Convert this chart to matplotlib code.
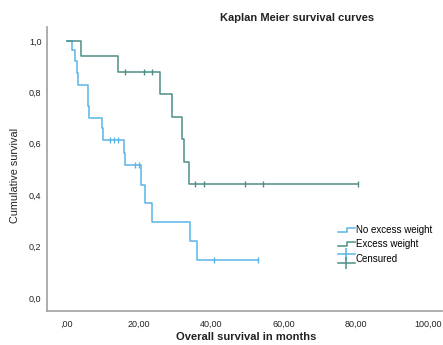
import matplotlib
matplotlib.use("Agg")
import matplotlib.pyplot as plt
from matplotlib.legend_handler import HandlerBase
from matplotlib.lines import Line2D

plt.rcParams['font.family'] = ['Liberation Sans', 'DejaVu Sans']

# step curves (time in months, survival)
no_excess_t = [0, 1.4, 2.3, 2.8, 3.2, 5.8, 6.2, 9.7, 10.1, 15.8, 16.1, 20.6, 21.7, 23.7, 34.2, 36.0, 53.0]
no_excess_s = [1.0, 0.965, 0.92, 0.876, 0.83, 0.745, 0.70, 0.66, 0.614, 0.565, 0.516, 0.441, 0.369, 0.295, 0.223, 0.150, 0.150]
no_excess_cens_t = [12.0, 13.1, 14.2, 18.8, 20.0, 40.8, 53.0]
no_excess_cens_s = [0.614, 0.614, 0.614, 0.516, 0.516, 0.150, 0.150]

excess_t = [0, 4.0, 14.1, 25.8, 29.1, 31.9, 32.5, 33.9, 80.5]
excess_s = [1.0, 0.943, 0.879, 0.793, 0.706, 0.618, 0.531, 0.442, 0.442]
excess_cens_t = [16.1, 21.3, 23.6, 35.5, 37.9, 49.4, 54.4, 80.5]
excess_cens_s = [0.879, 0.879, 0.879, 0.442, 0.442, 0.442, 0.442, 0.442]

x_ticks = [0, 20, 40, 60, 80, 100]
y_ticks = [0.0, 0.2, 0.4, 0.6, 0.8, 1.0]

blue = '#5ab4e6'
green = '#4d8f86'


class StepHandler(HandlerBase):
    def __init__(self, color):
        super().__init__()
        self.color = color

    def create_artists(self, legend, orig_handle, xdescent, ydescent, width, height, fontsize, trans):
        xs = [0, width * 0.55, width * 0.55, width]
        ys = [height * 0.2, height * 0.2, height * 0.8, height * 0.8]
        ln = Line2D(xs, ys, color=self.color, lw=1.1, transform=trans)
        return [ln]


class CensorHandler(HandlerBase):
    def create_artists(self, legend, orig_handle, xdescent, ydescent, width, height, fontsize, trans):
        l1 = Line2D([0, width], [height * 1.1, height * 1.1], color=blue, lw=1.1, transform=trans)
        m1 = Line2D([width / 2], [height * 1.1], marker='|', ms=9, mew=1.1, color=blue, transform=trans)
        l2 = Line2D([0, width], [height * -0.2, height * -0.2], color=green, lw=1.1, transform=trans)
        m2 = Line2D([width / 2], [height * -0.2], marker='|', ms=9, mew=1.1, color=green, transform=trans)
        return [l1, m1, l2, m2]


fig = plt.figure(figsize=(4.43, 3.45), dpi=100)
ax = fig.add_axes([47 / 443, 34 / 345, (442 - 47) / 443, (311 - 27) / 345])

ax.step(no_excess_t, no_excess_s, where='post', color=blue, lw=1.1)
ax.step(excess_t, excess_s, where='post', color=green, lw=1.1)
ax.plot(no_excess_cens_t, no_excess_cens_s, ls='none', marker='|', ms=5, mew=1.0, color=blue)
ax.plot(excess_cens_t, excess_cens_s, ls='none', marker='|', ms=5, mew=1.0, color=green)

ax.set_xlim(-5.5, 103.9)
ax.set_ylim(-0.05, 1.054)
ax.set_xticks(x_ticks)
ax.set_xticklabels([',00' if v == 0 else '{:.2f}'.format(v).replace('.', ',') for v in x_ticks])
ax.set_yticks(y_ticks)
ax.set_yticklabels(['{:.1f}'.format(v).replace('.', ',') for v in y_ticks])
ax.tick_params(length=0, labelsize=6.5, colors='#222222')
ax.tick_params(axis='x', pad=6)
ax.tick_params(axis='y', pad=4)

for side in ['top', 'right']:
    ax.spines[side].set_visible(False)
for side in ['left', 'bottom']:
    ax.spines[side].set_color('#a0a0a0')
    ax.spines[side].set_linewidth(1.2)

fig.text(297 / 443, 1 - 18 / 345, 'Kaplan Meier survival curves', ha='center', va='center',
         fontsize=8, fontweight='bold', color='#222222')
fig.text(15 / 443, 1 - 175 / 345, 'Cumulative survival', ha='center', va='center',
         rotation=90, fontsize=7.8, color='#222222')
fig.text(246 / 443, 1 - 337 / 345, 'Overall survival in months', ha='center', va='center',
         fontsize=8, fontweight='bold', color='#222222')

h1, h2, h3 = object(), object(), object()
ax.legend([h1, h2, h3], ['No excess weight', 'Excess weight', 'Censured'],
          handler_map={h1: StepHandler(blue), h2: StepHandler(green), h3: CensorHandler()},
          loc='upper left', bbox_to_anchor=((338 - 47) / 395, (345 - 225 - 34) / 284),
          frameon=False, fontsize=7, handlelength=1.7, handletextpad=0.15,
          labelspacing=0.45, borderaxespad=0, borderpad=0)

fig.savefig('out.png', dpi=100)
